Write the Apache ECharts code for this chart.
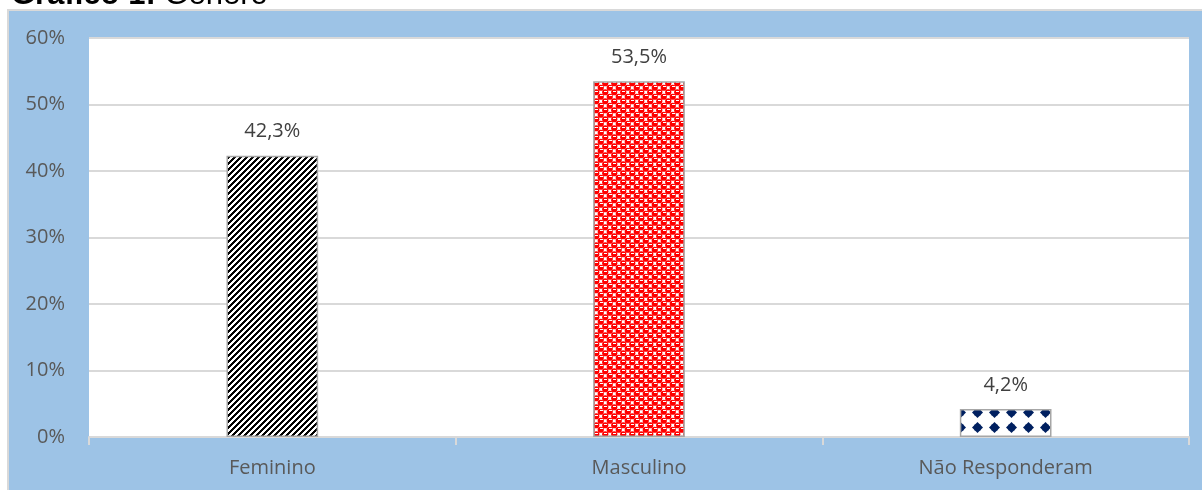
<!DOCTYPE html>
<html><head><meta charset="utf-8">
<script src="https://cdn.jsdelivr.net/npm/echarts@6/dist/echarts.min.js"></script>
<style>html,body{margin:0;padding:0;background:#fff;}#c{width:1202px;height:490px;}</style>
</head><body><div id="c"></div>
<script>
const categories = ['Feminino', 'Masculino', 'Não Responderam'];
const values = [42.3, 53.5, 4.2];
const yTicks = [0, 10, 20, 30, 40, 50, 60];

function stripes() {
  const c = document.createElement('canvas'); c.width = 6; c.height = 6;
  const g = c.getContext('2d'); g.fillStyle = '#fff'; g.fillRect(0,0,6,6);
  g.fillStyle = '#000';
  for (let x = 0; x < 6; x++) for (let y = 0; y < 6; y++) if ((x + y) % 6 < 3) g.fillRect(x, y, 1, 1);
  return c;
}
function spheres() {
  const c = document.createElement('canvas'); c.width = 9; c.height = 9;
  const g = c.getContext('2d'); g.fillStyle = '#fff'; g.fillRect(0,0,9,9);
  g.fillStyle = '#ff0000';
  [[2.25,2.25],[6.75,6.75],[6.75,-2.25],[-2.25,6.75],[11.25,2.25],[2.25,11.25],[-2.25,-2.25],[11.25,11.25]].forEach(([cx,cy]) => { g.beginPath(); g.arc(cx, cy, 3.1, 0, Math.PI*2); g.fill(); });
  g.fillStyle = '#fff'; g.fillRect(1,1,3,1); g.fillRect(6,5,3,1);
  return c;
}
function diamonds() {
  const w = 17, h = 15;
  const c = document.createElement('canvas'); c.width = w; c.height = h;
  const g = c.getContext('2d'); g.fillStyle = '#fff'; g.fillRect(0,0,w,h);
  g.fillStyle = '#002060';
  const cx = 8.5, cy = 7.5;
  g.beginPath(); g.moveTo(cx, cy-5.5); g.lineTo(cx+5.5, cy); g.lineTo(cx, cy+5.5); g.lineTo(cx-5.5, cy); g.closePath(); g.fill();
  g.fillRect(cx-3, cy-3, 6, 6);
  return c;
}
const patterns = [stripes(), spheres(), diamonds()];

const chart = echarts.init(document.getElementById('c'), null, {renderer: 'canvas'});
chart.setOption({
  animation: false,
  title: {
    text: '{b|Gráfico 1:} Gênero', left: 11, top: -20, padding: 0,
    textStyle: {fontSize: 31, fontFamily: 'Liberation Sans', color: '#000', fontWeight: 'normal',
      rich: {b: {fontWeight: 'bold', fontSize: 31, fontFamily: 'Liberation Sans', color: '#000'}}}
  },
  graphic: [
    {type: 'rect', z: -10, shape: {x: 8, y: 10, width: 1200, height: 490}, style: {fill: '#9DC3E6', stroke: '#D9D9D9', lineWidth: 2}}
  ],
  grid: {left: 89, right: 13, top: 38, bottom: 53, show: true, backgroundColor: '#fff', borderWidth: 0},
  xAxis: {
    type: 'category', data: categories,
    axisLine: {lineStyle: {color: '#D9D9D9', width: 2}},
    axisTick: {show: true, length: 8, lineStyle: {color: '#D9D9D9', width: 2}},
    axisLabel: {color: '#595959', fontSize: 20, fontFamily: 'Open Sans', margin: 21}
  },
  yAxis: {
    type: 'value', min: 0, max: 60, interval: 10,
    axisLine: {show: false}, axisTick: {show: false},
    splitLine: {lineStyle: {color: '#D9D9D9', width: 2}},
    axisLabel: {color: '#595959', fontSize: 20, fontFamily: 'Open Sans', margin: 24, formatter: v => v + '%'}
  },
  series: [{
    type: 'bar', barWidth: '25%',
    data: values.map((v, i) => ({value: v, itemStyle: {color: {image: patterns[i], repeat: 'repeat'}, borderColor: '#A6A6A6', borderWidth: 1.5}})),
    label: {show: true, position: 'top', distance: 14, color: '#404040', fontSize: 20, fontFamily: 'Open Sans',
      formatter: p => p.value.toFixed(1).replace('.', ',') + '%'}
  }]
});
</script></body></html>
